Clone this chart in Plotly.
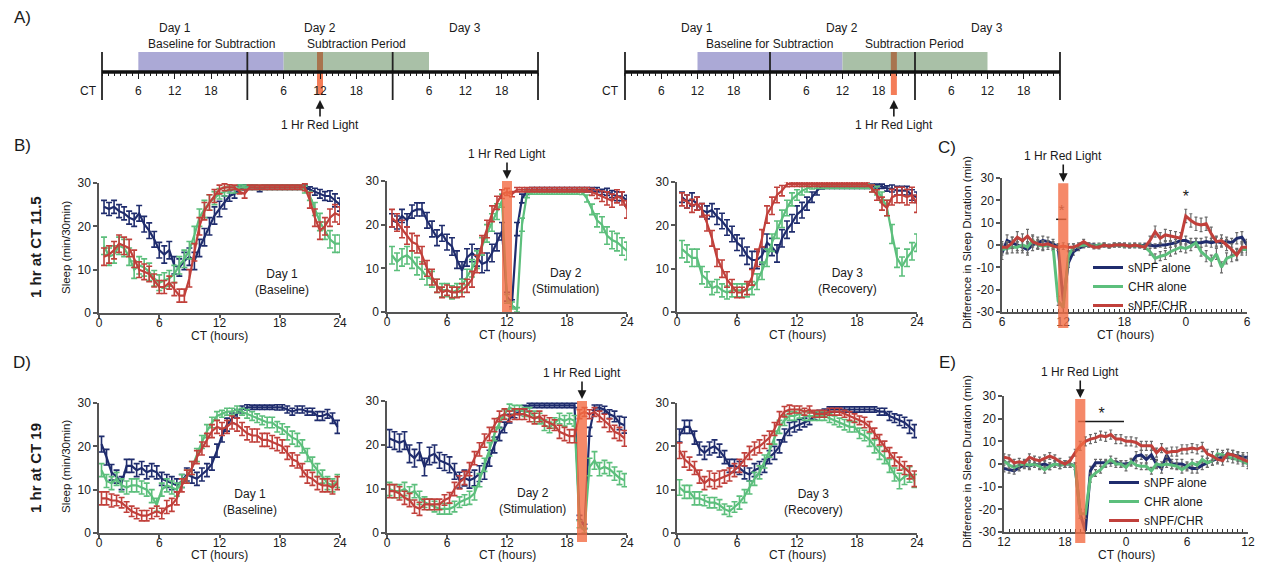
import plotly.graph_objects as go

W, H = 1265, 564
FONT = "Arial, 'Liberation Sans', Helvetica, sans-serif"
INK = "#1a1a1a"
AXIS = "#555555"
GRAY_ERR = "#6a6a6a"

SERIES = ["sNPF alone", "CHR alone", "sNPF/CHR"]
COLORS = ["#1f2c6d", "#5cbf7c", "#c1403b"]
LIGHT = "#f26b43"
BAND_BASE = "#aba9d6"
BAND_SUB = "#a9c0a7"
BROWN = "#a8744e"

# ---------------- x positions (half-hour bins) ----------------
CT_B = [0.5 * k for k in range(1, 49)]          # 0.5 .. 24
CT_D = [0.25 + 0.5 * k for k in range(48)]      # 0.25 .. 23.75
CT_C = [6 + 0.5 * k for k in range(49)]         # CT6 day2 .. CT6 day3
CT_E = [12 + 0.5 * k for k in range(49)]        # CT12 day2 .. CT12 day3

# ---------------- Row B : light at CT 11.5 ----------------
b1_blue = [24.5,24,24.5,23.5,23,22,21.5,23,20.5,19, 17,14.5,13.5,14.5,11,10.5,12,13,12,15,
           17.5,20,22.5,24,25.5,27,27.5,28.5,29,29, 29,28.5,29,29,29,29,29,29,29,29,
           29,28.5,28,27.5,27,27,26,25]
b1_green = [15.5,13,13.5,15.5,15,13,10,11,10.5,9.5, 8,7,7.5,8,9,11,12.5,14.5,18,22,
            24,25.5,26.5,27.5,28,28.5,28.5,29,29,29, 29,29,29,29,29,29,29,29,29,29,
            28.5,27,24,21,19,17,16,16]
b1_red = [13,13.5,14.5,16,15.5,15,12.5,10,9.5,9, 7.5,6,6,7,5.5,4,4,8,14,20,
          23.5,25.5,27,28.5,29,29,29,28,27.5,29, 29,29,29,29,29,29,29,29,29,29,
          29,26,22,19,20,22,23,22.5]

b2_blue = [21,20.5,22,21,23,23.5,23.5,21,19,17, 18,16,15,12,9.5,12.5,13.5,12.5,11,11.5,
           13.5,16,18.5,3.5,2,19,26,27.5,28,28, 28,28,28,28,28,28,28,28,28,28,
           28,28,27.5,27.5,27,26.5,26.5,25.5]
b2_green = [13,11.5,12.5,13,12,10.5,9.5,8,7.5,6, 5,5,4.5,5,6,8,10,12,15,18,
            20.5,23,25.5,3,1.5,0.5,20,27,27.5,27.5, 27.5,27.5,27.5,27.5,27.5,27.5,27.5,27.5,27.5,26,
            23.5,21,20,17.5,16.5,16,15,14]
b2_red = [21.5,20.5,19,17.5,16,15.5,13,10,8,6, 4.5,5,4.5,4.5,5,6,7.5,11,15.5,19,
          22.5,25,27,27.5,27,28,28,28,28,28, 28,28,28,28,28,28,28,28,28,28,
          27.5,27,26.5,26,25.5,26.5,26,23.5]

b3_blue = [26.5,25.5,26,25,23.5,23,23.5,22,21,19.5, 18,16,15,13,12,12,13,16,15,13.5,
           17,19,20.5,22.5,23.5,25,26.5,28,29,29, 29,29,29,29,29,29,29,29,29,29,
           29,28.5,28.5,28,28,28,27,26.5]
b3_green = [14.5,13.5,12.5,12.5,8.5,7.5,5.5,6,5,4.5, 5,5,5,5,5.5,7,9.5,12.5,16,19,
            21.5,24,26,27,28,28.5,29,29,29,29, 29,29,29,29,29,29,29,29,28.5,28,
            26.5,24,18,12.5,10.5,12.5,14,16]
b3_red = [26,25.5,24.5,25,23.5,20.5,17,12.5,10,7.5, 6,4.5,4.5,5.5,8,12.5,17,22.5,24.5,27,
          28,29.5,29.5,29.5,29.5,29.5,29.5,29.5,29.5,29.5, 29.5,29.5,29.5,29.5,29.5,29.5,29.5,29.5,28.5,27,
          25,24,26.5,27,27,26.5,27,25]

b1_blue_err = [1.5,1.5,1.5,1.5,1.5,1.5,1.5,1.8,1.8,1.8, 1.8,1.8,2,2,2,2,2,2,2,2,
               2,2,2,1.8,1.5,1.2,1,0.8,0.6,0.5, 0.5,0.5,0.5,0.5,0.5,0.5,0.5,0.5,0.5,0.5,
               0.5,0.6,0.8,1,1,1.2,1.5,1.5]
b1_green_err = [2,2,2,2,2,2,2,2,2,2, 1.8,1.8,1.8,1.8,2,2,2,2,2,2,
                2,1.8,1.5,1.2,1,0.8,0.8,0.6,0.5,0.5, 0.5,0.5,0.5,0.5,0.5,0.5,0.5,0.5,0.5,0.5,
                0.8,1,1.5,2,2,2,2,2]
b1_red_err = [2,2,2,2,2,2,2,1.8,1.8,1.8, 1.5,1.5,1.5,1.5,1.5,1.5,1.5,2,2,2,
              2,1.8,1.5,1,0.8,0.6,0.5,0.5,1,0.5, 0.5,0.5,0.5,0.5,0.5,0.5,0.5,0.5,0.5,0.5,
              0.8,1.8,2,2,2,2,2,2]
b2_blue_err = [1.5,1.5,1.5,1.5,1.5,1.5,1.5,1.8,1.8,1.8, 1.8,1.8,2,2,2,2,2,2,2,2,
               2,2,2,1,0.8,1.5,1,0.6,0.5,0.5, 0.5,0.5,0.5,0.5,0.5,0.5,0.5,0.5,0.5,0.5,
               0.5,0.5,0.6,0.8,0.8,1,1,1.2]
b2_green_err = [2,2,2,2,2,2,2,1.8,1.8,1.5, 1.5,1.5,1.5,1.5,1.5,1.8,2,2,2,2,
                2,1.8,1.5,1,0.8,0.5,1.5,0.8,0.5,0.5, 0.5,0.5,0.5,0.5,0.5,0.5,0.5,0.5,0.6,0.8,
                1.2,1.5,1.8,2,2,2,2,2]
b2_red_err = [2,2,2,2,2,2,2,1.8,1.8,1.5, 1.2,1.2,1.2,1.2,1.5,1.5,1.8,2,2,2,
              1.8,1.5,1,0.8,0.6,0.5,0.5,0.5,0.5,0.5, 0.5,0.5,0.5,0.5,0.5,0.5,0.5,0.5,0.5,0.5,
              0.8,1,1.2,1.5,1.5,1.5,1.5,2]
b3_blue_err = [1.2,1.5,1.5,1.5,1.5,1.5,1.5,1.8,1.8,1.8, 1.8,1.8,2,2,2,2,2,2,2,2,
               2,2,2,2,1.8,1.5,1.2,1,0.6,0.5, 0.5,0.5,0.5,0.5,0.5,0.5,0.5,0.5,0.5,0.5,
               0.5,0.6,0.8,1,1,1,1.2,1.2]
b3_green_err = [2,2,2,2,2,1.8,1.5,1.5,1.5,1.5, 1.5,1.5,1.5,1.5,1.5,1.8,2,2,2,2,
                2,1.8,1.5,1.2,1,0.8,0.6,0.5,0.5,0.5, 0.5,0.5,0.5,0.5,0.5,0.5,0.5,0.5,0.8,1,
                1.2,1.8,2.2,2.2,2.2,2,2,2]
b3_red_err = [1.5,1.5,1.5,1.5,1.5,1.8,1.8,2,2,1.8, 1.5,1.2,1.2,1.5,1.8,2,2,2,2,1.8,
              1.2,0.6,0.5,0.5,0.5,0.5,0.5,0.5,0.5,0.5, 0.5,0.5,0.5,0.5,0.5,0.5,0.5,0.5,0.8,1.2,
              1.5,1.8,1.8,1.8,1.8,1.8,1.8,2]

# ---------------- Row D : light at CT 19 ----------------
d1_blue = [20.5,17.5,14,13,11.5,15.5,15.5,14.5,15,14, 14.5,14,12.5,12,11.5,11,12,13.5,13,12.5,
           13.5,14.5,16,19,22.5,25,26.5,27.5,28.5,29, 29,29,29,29,29,29,29,28.5,28,28.5,
           28.5,28,28,27,27,27.5,26.5,24.5]
d1_green = [14.5,12,11.5,12.5,11,10.5,11,11,10.5,10, 8.5,6.5,10,11,10.5,10,12,13,15,18,
            21,23.5,25.5,27,27.5,28,28,28.5,28,27.5, 27,26.5,26,25.5,25.5,24.5,24,23,22,21.5,
            20,18,16,14.5,13,11.5,11,12]
d1_red = [8,8,7.5,7.5,7,6,5,4.5,4,4, 4.5,5,4.5,6,6.5,8,11,13,15,17.5,
          19.5,21.5,23.5,24.5,24,24.5,25.5,25,24,23, 22.5,22.5,21.5,21.5,21,20.5,20,18.5,17,16.5,
          14.5,13,12.5,11.5,11,11,10.5,11.5]

d2_blue = [21.5,21,20.5,21,18,17,18.5,15,17.5,18, 16.5,16,15.5,14,12,12.5,12,12.5,13.5,14,
           17,20,22.5,24,26,27,27.5,28.5,29,29, 29,29,29,29,29,29,29,29,3.5,1.5,
           23,28.5,28.5,28,27,26.5,25,24.5]
d2_green = [10,9.5,9.5,10,9,9.5,8,7,6.5,6, 5.5,5.5,5.5,6,7,7.5,8,9,12,15.5,
            19,22.5,25,27,28.5,28,28,27.5,27.5,26.5, 26,24.5,24,25,26,25.5,26,25.5,2,0.5,
            15,16.5,14.5,15,14.5,13.5,12.5,12]
d2_red = [9.5,9.5,9,8,7.5,6,5.5,6.5,6.5,6.5, 6.5,7.5,8,10,11.5,12.5,14.5,17,19,21,
          22.5,24.5,26.5,27,26.5,27,27,27,26.5,26, 26.5,25.5,25,24.5,23,22.5,22,22,27,27.5,
          27,27.5,26.5,25.5,24.5,23,22.5,21.5]

d3_blue = [22.5,24.5,24.5,22,19.5,18.5,19.5,20,19,17.5, 15.5,15.5,15,14,13.5,14.5,15,15.5,17.5,18.5,
           20,22.5,24,24.5,25,25.5,26,27,27.5,28, 28.5,28.5,28.5,28.5,28.5,28.5,28.5,28.5,28.5,28.5,
           28,28,27,26.5,26,25.5,24.5,23.5]
d3_green = [10.5,9.5,9.5,8,8,7.5,7,7,6.5,5.5, 5,6,7,8.5,10.5,12.5,14,16.5,19,22,
            24.5,26,27,27,27.5,27,27,27,27,27, 26.5,26,25.5,25,24.5,24.5,23,22.5,21.5,20,
            18.5,17.5,15.5,13.5,12,13,13.5,12]
d3_red = [19,17,16,15,13,11.5,12.5,12,12.5,13, 13.5,14.5,15.5,17,18.5,19.5,20,21,22,24,
          26.5,28,28.5,28.5,28.5,28,28.5,27.5,27.5,27.5, 28,28,28,27.5,27,26.5,26,25.5,24.5,23,
          21.5,20,18.5,17,16,15,14,12.5]

d1_blue_err = [1.8,1.8,1.8,1.5,1.5,1.5,1.5,1.5,1.5,1.5, 1.5,1.5,1.5,1.5,1.5,1.5,1.5,1.5,1.5,1.5,
               1.5,1.5,1.5,1.5,1.5,1.5,1.2,1,0.8,0.6, 0.5,0.5,0.5,0.5,0.5,0.6,0.6,0.8,0.8,0.8,
               0.8,0.8,0.8,1,1,1,1.2,1.5]
d1_green_err = [1.5,1.5,1.5,1.5,1.5,1.5,1.5,1.5,1.5,1.5, 1.5,1.5,1.5,1.5,1.5,1.5,1.5,1.5,1.5,1.5,
                1.5,1.5,1.2,1,0.8,0.8,0.8,0.8,0.8,1, 1,1,1,1.2,1.2,1.2,1.2,1.5,1.5,1.5,
                1.5,1.5,1.5,1.5,1.5,1.5,1.5,1.5]
d1_red_err = [1.5,1.5,1.5,1.2,1.2,1.2,1.2,1.2,1.2,1.2, 1.2,1.2,1.2,1.5,1.5,1.5,1.5,1.5,1.5,1.5,
              1.5,1.5,1.5,1.5,1.5,1.5,1.5,1.5,1.5,1.5, 1.5,1.5,1.5,1.5,1.5,1.5,1.5,1.5,1.5,1.5,
              1.5,1.5,1.5,1.5,1.5,1.5,1.5,1.5]
d2_blue_err = [2,2,2,2,2,2,2,2,2,2, 1.8,1.8,1.8,1.8,1.8,1.8,1.8,1.8,1.8,1.8,
               1.8,1.8,1.5,1.2,1,0.8,0.6,0.5,0.5,0.5, 0.5,0.5,0.5,0.5,0.5,0.5,0.5,0.5,0.5,0.5,
               1,0.6,0.6,0.8,1,1.2,1.5,1.8]
d2_green_err = [1.5,1.5,1.5,1.5,1.5,1.5,1.5,1.2,1.2,1.2, 1.2,1.2,1.2,1.2,1.2,1.2,1.5,1.5,1.5,1.5,
                1.5,1.5,1.2,1,0.8,1,1,1,1,1.2, 1.2,1.2,1.2,1.2,1.2,1.2,1.2,1.2,0.8,0.5,
                2,2,1.5,1.5,1.5,1.5,1.5,1.5]
d2_red_err = [1.5,1.5,1.5,1.5,1.5,1.5,1.5,1.2,1.2,1.2, 1.2,1.2,1.2,1.5,1.5,1.5,1.5,1.5,1.5,1.5,
              1.5,1.5,1.2,1.2,1.2,1.2,1.2,1.2,1.2,1.2, 1.2,1.2,1.2,1.2,1.5,1.5,1.5,1.5,1,1,
              1,1,1.2,1.5,1.5,1.5,1.5,1.8]
d3_blue_err = [1.5,1.5,1.5,1.5,1.5,1.5,1.5,1.5,1.5,1.5, 1.5,1.5,1.5,1.5,1.5,1.5,1.5,1.5,1.5,1.5,
               1.5,1.5,1.5,1.2,1.2,1,1,0.8,0.8,0.6, 0.6,0.6,0.6,0.6,0.6,0.6,0.6,0.6,0.6,0.6,
               0.8,0.8,1,1,1.2,1.2,1.5,1.5]
d3_green_err = [1.8,1.5,1.5,1.5,1.5,1.2,1.2,1.2,1.2,1.2, 1.2,1.2,1.5,1.5,1.5,1.5,1.5,1.5,1.5,1.5,
                1.5,1.2,1,1,1,1,1,1,1,1, 1,1,1,1.2,1.2,1.2,1.2,1.2,1.5,1.5,
                1.5,1.5,1.5,1.5,1.8,1.8,1.8,1.5]
d3_red_err = [1.8,1.8,1.5,1.5,1.5,1.5,1.8,1.8,1.8,1.5, 1.5,1.5,1.5,1.5,1.5,1.5,1.5,1.5,1.5,1.5,
              1.5,1.2,1,0.8,0.8,0.8,0.8,0.8,0.8,0.8, 0.8,0.8,0.8,0.8,1,1,1,1.2,1.2,1.2,
              1.2,1.2,1.2,1.5,1.5,1.5,1.5,1.8]

# ---------------- Difference panels ----------------
c_blue = [-3.5,2,1,0,-1,-2,0,1,2,1.5, 0.5,-1,-25,-8,-3,-1.5,-0.5,0,0,-0.5,
          0,-0.5,0,0,0,-0.5,0,-0.5,0,0, -0.5,0,0,0.5,1,2,2,1,1,1,
          1.5,1,1.5,1,1.5,1,3,3.5,0]
c_green = [-2,-1.5,-1,-1,0,-1,2,0,-0.5,0, -0.5,-25,-28,-5,-1,-0.5,0,0,-0.5,0,
           0,-0.5,0,0,-0.5,0,-0.5,0,-1,-3, -6,-5,-4.5,-3,-2,-1,-1.5,-0.5,1,-3,
           -5,-7,-4,-10,-6,-5,-4,-2,-2]
c_red = [-1,-1,1,3.5,2,4,1.5,0.5,0,0.5, -0.5,-1,-0.5,-1,-1,0,1.5,0,-1,-1,
         0,-0.5,0,0,0,-0.5,0,-0.5,-1,2, 6,3,4.5,4,3.5,3,13,11,9.5,9,
         9.5,5,1.5,2,0,-2,-4.5,-1,-1]
c_blue_err = [3,2.5,2.5,2.5,2.5,2.5,2.5,2.5,2,2, 2,1.5,3,2,1.5,1,0.8,0.8,0.8,0.8,
              0.8,0.8,0.8,0.8,0.8,0.8,0.8,0.8,0.8,0.8, 1,1,1.5,1.5,1.5,2,2,2,2,2,
              2,2,2,2,2,2,2.5,2.5,2.5]
c_green_err = [2.5,2.5,2.5,2.5,2.5,2.5,2.5,2,2,2, 2,2,2.5,2,1.5,1,0.8,0.8,0.8,0.8,
               0.8,0.8,0.8,0.8,0.8,0.8,0.8,0.8,1,1.5, 2,2,2,2,2,2,2,2,2,2,
               2.5,2.5,2.5,2.5,2.5,2.5,2.5,2.5,2.5]
c_red_err = [2.5,2.5,2.5,2.5,3,3,2.5,2,2,1.5, 1.5,1.5,1.5,1.5,1.5,1,1,1,0.8,0.8,
             0.8,0.8,0.8,0.8,0.8,0.8,0.8,0.8,1,2, 2.5,2.5,2.5,2.5,2.5,2.5,3,3,3,3,
             3,3,2.5,2.5,2.5,2.5,2.5,2.5,2.5]

e_blue = [-2,-2.5,-3,-1.5,-0.5,-1,0,-0.5,0,-1, 0,-0.5,0,0,-1,-22,-29.5,-3,0.5,0.5,
          0.5,0.5,1,0,0,0.5,3.5,4,2,4, 0,-2,4,0,0,0,-1,-2,-2,-0.5,
          0.5,1.5,2.5,3,4.5,4,3.5,3,3]
e_green = [1.5,-0.5,-1.5,-0.5,0,-0.5,0,-1,-2.5,-1, 0,-0.5,0,0,-1,-22,-22,-6,-4,-2.5,
           0,2,0,0,-1.5,1,-0.5,-1,-1,-3, 0,-0.5,0,-0.5,-1,-2.5,-1,0.5,-0.5,2,
           0.5,1.5,4.5,4,3,2.5,2,1,0]
e_red = [3,2.5,0.5,1,0.5,3,2,1.5,2.5,3.5, 2.5,1,0,1.5,5,8,10,11,11.5,12.5,
         12,13,11,11,10,10,9.5,8,8,8, 5,7,5,5.5,5.5,6.5,6.5,7,6.5,7.5,
         4.5,3.5,2,1.5,4.5,4,3,2,1]
e_blue_err = [1.5,1.5,1.5,1.5,1.5,1.5,1.5,1.5,1.5,1.5, 1.5,1.5,1.5,1.5,1.5,2,2,2,1.5,1.5,
              1.5,1.5,1.5,1.5,1.5,1.5,2,2,2,2, 2,2,2,2,2,2,2,2,2,2,
              2,2,2,2,2,2,2,2,2]
e_green_err = [1.5,1.5,1.5,1.5,1.5,1.5,1.5,1.5,1.5,1.5, 1.5,1.5,1.5,1.5,1.5,2,2,2,1.5,1.5,
               1.5,1.5,1.5,1.5,1.5,1.5,1.5,1.5,1.5,1.5, 1.5,1.5,1.5,1.5,1.5,1.5,1.5,1.5,1.5,1.5,
               2,2,2,2,2,2,2,2,2]
e_red_err = [1.5,1.5,1.5,1.5,1.5,1.5,1.5,1.5,1.5,1.5, 1.5,1.5,1.5,1.5,1.5,2,2,2,2,2,
             2,2,2,2,2,2,2,2,2,2, 2,2,2,2,2,2,2,2,2,2,
             2,2,2,2,2,2,2,2,2]

# ---------------- helpers ----------------
def hx(px):
    return px / W

def vy(py):
    return 1 - py / H

def ax_id(n):
    return "" if n == 1 else str(n)

fig = go.Figure()
layout = {}
shapes = []
annotations = []

tickfont = dict(size=12, color=INK, family=FONT)


def add_series(n, xs, vals, errs, diff=False, legend=None):
    a = ax_id(n)
    for name, col, v, e in zip(SERIES, COLORS, vals, errs):
        fig.add_trace(go.Scatter(
            x=xs, y=v, mode="lines", name=name,
            line=dict(color=col, width=3 if diff else 2.2),
            error_y=dict(type="data", array=e,
                         color=GRAY_ERR if diff else col,
                         thickness=1.2 if diff else 1.6,
                         width=1.5 if diff else 3),
            xaxis="x" + a, yaxis="y" + a,
            showlegend=legend is not None,
            legend=legend if legend else "legend",
            cliponaxis=False, hoverinfo="skip"))


def sleep_axes(n, left, right, top, bottom, xr, xtv, xtt, yr, ytv, ytt, inside_minor=False):
    a = ax_id(n)
    xa = dict(domain=[hx(left), hx(right)], range=xr, anchor="y" + a,
              tickmode="array", tickvals=xtv, ticktext=xtt,
              ticks="outside", ticklen=3, tickwidth=1.5, tickcolor=AXIS,
              showline=True, linecolor=AXIS, linewidth=1.5, ticklabelstandoff=-5,
              showgrid=False, zeroline=False, tickfont=tickfont)
    if inside_minor:
        xa.update(ticks="inside", ticklen=3, tickwidth=1.2, tickcolor="#333", ticklabelstandoff=-2,
                  minor=dict(ticks="inside", ticklen=3, tickwidth=1.2, tickcolor="#333",
                             tickmode="linear", tick0=xr[0], dtick=0.5, showgrid=False))
    ya = dict(domain=[vy(bottom), vy(top)], range=yr, anchor="x" + a,
              tickmode="array", tickvals=ytv, ticktext=ytt,
              ticks="outside", ticklen=4, tickwidth=1.5, tickcolor=AXIS,
              showline=True, linecolor=AXIS, linewidth=1.5,
              showgrid=False, zeroline=False, tickfont=tickfont)
    layout["xaxis" + a] = xa
    layout["yaxis" + a] = ya


def text(px, py, s, size=12, bold=False, angle=0, xanchor="center", color=INK):
    annotations.append(dict(x=hx(px), y=vy(py), xref="paper", yref="paper",
                            text=("<b>%s</b>" % s) if bold else s, showarrow=False,
                            textangle=angle, xanchor=xanchor, yanchor="middle",
                            font=dict(size=size, color=color, family=FONT)))


def light_bar(n, x0, x1, y0, y1):
    a = ax_id(n)
    shapes.append(dict(type="rect", xref="x" + a, yref="y%s domain" % a,
                       x0=x0, x1=x1, y0=y0, y1=y1, fillcolor=LIGHT, opacity=0.8,
                       line=dict(width=0), layer="above"))


def light_arrow(n, x, tip_py, ay):
    a = ax_id(n)
    annotations.append(dict(x=x, y=vy(tip_py), xref="x" + a, yref="paper",
                            text="1 Hr Red Light", showarrow=True, ax=0, ay=ay,
                            arrowhead=2, arrowsize=1.1, arrowwidth=1.6, arrowcolor=INK,
                            font=dict(size=12, color=INK, family=FONT)))


# ---------------- sleep panels ----------------
SX = [0, 6, 12, 18, 24]
SXT = ["0", "6", "12", "18", "24"]
SY = [0, 10, 20, 30]
SYT = ["0", "10", "20", "30"]

sleep_panels = [
    (1, 99, 340, 183, 313, CT_B, [b1_blue, b1_green, b1_red], [b1_blue_err, b1_green_err, b1_red_err],
     "Day 1<br>(Baseline)", 18.2, 336),
    (2, 387, 627, 181, 312, CT_B, [b2_blue, b2_green, b2_red], [b2_blue_err, b2_green_err, b2_red_err],
     "Day 2<br>(Stimulation)", 17.8, 335),
    (3, 677, 917, 182, 312, CT_B, [b3_blue, b3_green, b3_red], [b3_blue_err, b3_green_err, b3_red_err],
     "Day 3<br>(Recovery)", 17.0, 335),
    (5, 99, 340, 403, 533, CT_D, [d1_blue, d1_green, d1_red], [d1_blue_err, d1_green_err, d1_red_err],
     "Day 1<br>(Baseline)", 15.0, 555),
    (6, 387, 627, 401, 533, CT_D, [d2_blue, d2_green, d2_red], [d2_blue_err, d2_green_err, d2_red_err],
     "Day 2<br>(Stimulation)", 14.5, 555),
    (7, 677, 917, 403, 533, CT_D, [d3_blue, d3_green, d3_red], [d3_blue_err, d3_green_err, d3_red_err],
     "Day 3<br>(Recovery)", 13.6, 555),
]

for n, l, r, t, b, xs, vals, errs, lab, labx, ty in sleep_panels:
    sleep_axes(n, l, r, t, b, [0, 24], SX, SXT, [0, 30], SY, SYT)
    add_series(n, xs, vals, errs)
    a = ax_id(n)
    annotations.append(dict(x=labx, y=7.2, xref="x" + a, yref="y" + a, text=lab,
                            showarrow=False, font=dict(size=12, color=INK, family=FONT)))
    text((l + r) / 2, ty, "CT (hours)", size=12)

# ---------------- difference panels ----------------
DY = [-30, -20, -10, 0, 10, 20, 30]
DYT = ["-30", "-20", "-10", "0", "10", "20", "30"]
sleep_axes(4, 1002, 1247, 178, 312, [6, 30], [6, 12, 18, 24, 30], ["6", "12", "18", "0", "6"],
           [-30, 30], DY, DYT, inside_minor=True)
add_series(4, CT_C, [c_blue, c_green, c_red], [c_blue_err, c_green_err, c_red_err],
           diff=True, legend="legend")
sleep_axes(8, 1004, 1248, 396, 532, [12, 36], [12, 18, 24, 30, 36], ["12", "18", "0", "6", "12"],
           [-30, 30], DY, DYT, inside_minor=True)
add_series(8, CT_E, [e_blue, e_green, e_red], [e_blue_err, e_green_err, e_red_err],
           diff=True, legend="legend2")

# significance marks (drawn under the light bar)
fig.add_trace(go.Scatter(x=[11.3, 12.3], y=[11.5, 11.5], mode="lines", line=dict(color=INK, width=1.5),
                         xaxis="x4", yaxis="y4", showlegend=False, hoverinfo="skip"))
fig.add_trace(go.Scatter(x=[11.85], y=[15], mode="text", text=["*"], textfont=dict(size=15, color="#444"),
                         xaxis="x4", yaxis="y4", showlegend=False, hoverinfo="skip", cliponaxis=False))
fig.add_trace(go.Scatter(x=[24], y=[21], mode="text", text=["*"], textfont=dict(size=16, color=INK),
                         xaxis="x4", yaxis="y4", showlegend=False, hoverinfo="skip", cliponaxis=False))
fig.add_trace(go.Scatter(x=[19.3, 23.8], y=[18.7, 18.7], mode="lines", line=dict(color=INK, width=1.5),
                         xaxis="x8", yaxis="y8", showlegend=False, hoverinfo="skip"))
fig.add_trace(go.Scatter(x=[21.6], y=[21.5], mode="text", text=["*"], textfont=dict(size=16, color=INK),
                         xaxis="x8", yaxis="y8", showlegend=False, hoverinfo="skip", cliponaxis=False))

text(1125, 335, "CT (hours)", size=12)
text(1126, 555, "CT (hours)", size=12)
text(967, 243, "Difference in Sleep Duration (min)", size=11.5, angle=-90)
text(967, 462, "Difference in Sleep Duration (min)", size=11.5, angle=-90)

# light bars + arrows
light_bar(2, 11.5, 12.5, 0, 1.0)
light_arrow(2, 12, 179, -25)
light_bar(6, 19, 20, -0.068, 1.0)
light_arrow(6, 19.5, 399, -26)
light_bar(4, 11.5, 12.5, -0.12, 0.96)
light_arrow(4, 12, 182, -26)
light_bar(8, 19, 20, -0.08, 0.978)
light_arrow(8, 19.5, 398, -26)

# ---------------- Panel A schematics ----------------
A_TICKS = [6, 12, 18, 30, 36, 42, 54, 60, 66]
A_TEXT = ["6", "12", "18", "6", "12", "18", "6", "12", "18"]
schematics = [
    # axis n, left px, right px, baseline band, subtraction band, light start, "CT" x
    (9, 102, 538, (6, 30), (30, 54), 35.5, 88),
    (10, 625, 1060, (12, 36), (36, 60), 44.0, 610),
]
for n, l, r, base, sub, lt, ctx in schematics:
    a = ax_id(n)
    scale = (r - l) / 72.0
    pad = 0.3
    layout["xaxis" + a] = dict(domain=[hx(l - pad * scale), hx(r + pad * scale)], range=[-pad, 72 + pad],
                               anchor="y" + a, tickmode="array", tickvals=A_TICKS, ticktext=A_TEXT,
                               ticks="outside", ticklen=6, tickwidth=1.3, tickcolor=INK,
                               showline=False, showgrid=False, zeroline=False,
                               tickfont=dict(size=12, color=INK, family=FONT), ticklabelstandoff=2,
                               minor=dict(ticks="outside", ticklen=3, tickwidth=1, tickcolor=INK,
                                          tickmode="linear", tick0=0, dtick=1, showgrid=False))
    layout["yaxis" + a] = dict(domain=[vy(72), vy(52)], range=[0, 1], visible=False, anchor="x" + a)
    yd = "y%s domain" % a
    shapes.append(dict(type="rect", xref="x" + a, yref=yd, x0=base[0], x1=base[1], y0=0, y1=1,
                       fillcolor=BAND_BASE, line=dict(width=0), layer="below"))
    shapes.append(dict(type="rect", xref="x" + a, yref=yd, x0=sub[0], x1=sub[1], y0=0, y1=1,
                       fillcolor=BAND_SUB, line=dict(width=0), layer="below"))
    shapes.append(dict(type="rect", xref="x" + a, yref=yd, x0=lt, x1=lt + 1, y0=0, y1=1,
                       fillcolor=BROWN, line=dict(width=0), layer="below"))
    shapes.append(dict(type="rect", xref="x" + a, yref=yd, x0=lt, x1=lt + 1, y0=-1.15, y1=0,
                       fillcolor="#f47d58", line=dict(width=0), layer="below"))
    for v in (0, 24, 48, 72):
        shapes.append(dict(type="line", xref="x" + a, yref=yd, x0=v, x1=v, y0=-1.4, y1=1,
                           line=dict(color="#222", width=1.8), layer="below"))
    shapes.append(dict(type="line", xref="x" + a, yref=yd, x0=0, x1=72, y0=0, y1=0,
                       line=dict(color="#111", width=3.5), layer="below"))
    for dx, lab in ((12, "Day 1"), (36, "Day 2"), (60, "Day 3")):
        annotations.append(dict(x=dx, y=vy(28), xref="x" + a, yref="paper", text=lab, showarrow=False,
                                yanchor="middle", font=dict(size=12, color=INK, family=FONT)))
    annotations.append(dict(x=(base[0] + base[1]) / 2, y=vy(44), xref="x" + a, yref="paper",
                            text="Baseline for Subtraction", showarrow=False, yanchor="middle",
                            font=dict(size=12, color=INK, family=FONT)))
    annotations.append(dict(x=(sub[0] + sub[1]) / 2, y=vy(44), xref="x" + a, yref="paper",
                            text="Subtraction Period", showarrow=False, yanchor="middle",
                            font=dict(size=12, color=INK, family=FONT)))
    annotations.append(dict(x=lt + 0.5, y=vy(100), xref="x" + a, yref="paper", text="1 Hr Red Light",
                            showarrow=True, ax=0, ay=25, arrowhead=2, arrowsize=1.1, arrowwidth=1.6,
                            arrowcolor=INK, font=dict(size=12, color=INK, family=FONT)))
    text(ctx, 91, "CT", size=12)

# ---------------- panel letters / row labels ----------------
text(22, 18, "A)", size=17)
text(22, 145, "B)", size=17)
text(947, 147, "C)", size=17)
text(22, 362, "D)", size=17)
text(947, 362, "E)", size=17)
text(35, 247, "1 hr at CT 11.5", size=15, bold=True, angle=-90)
text(35, 468, "1 hr at CT 19", size=15, bold=True, angle=-90)
text(66, 248, "Sleep (min/30min)", size=11.5, angle=-90)
text(66, 467, "Sleep (min/30min)", size=11.5, angle=-90)

legend_common = dict(xanchor="left", yanchor="top", bgcolor="rgba(0,0,0,0)", borderwidth=0,
                     font=dict(size=12, color=INK, family=FONT), tracegroupgap=0, itemwidth=30)
layout["legend"] = dict(x=hx(1088), y=vy(253), **legend_common)
layout["legend2"] = dict(x=hx(1104), y=vy(468), **legend_common)

fig.update_layout(width=W, height=H, autosize=False,
                  margin=dict(l=0, r=0, t=0, b=0, pad=0, autoexpand=False),
                  paper_bgcolor="white", plot_bgcolor="white", showlegend=True,
                  font=dict(family=FONT, color=INK), shapes=shapes, annotations=annotations, **layout)

fig.write_html("out.html", config={"displayModeBar": False},
               post_script="document.body.style.margin='0px';")
